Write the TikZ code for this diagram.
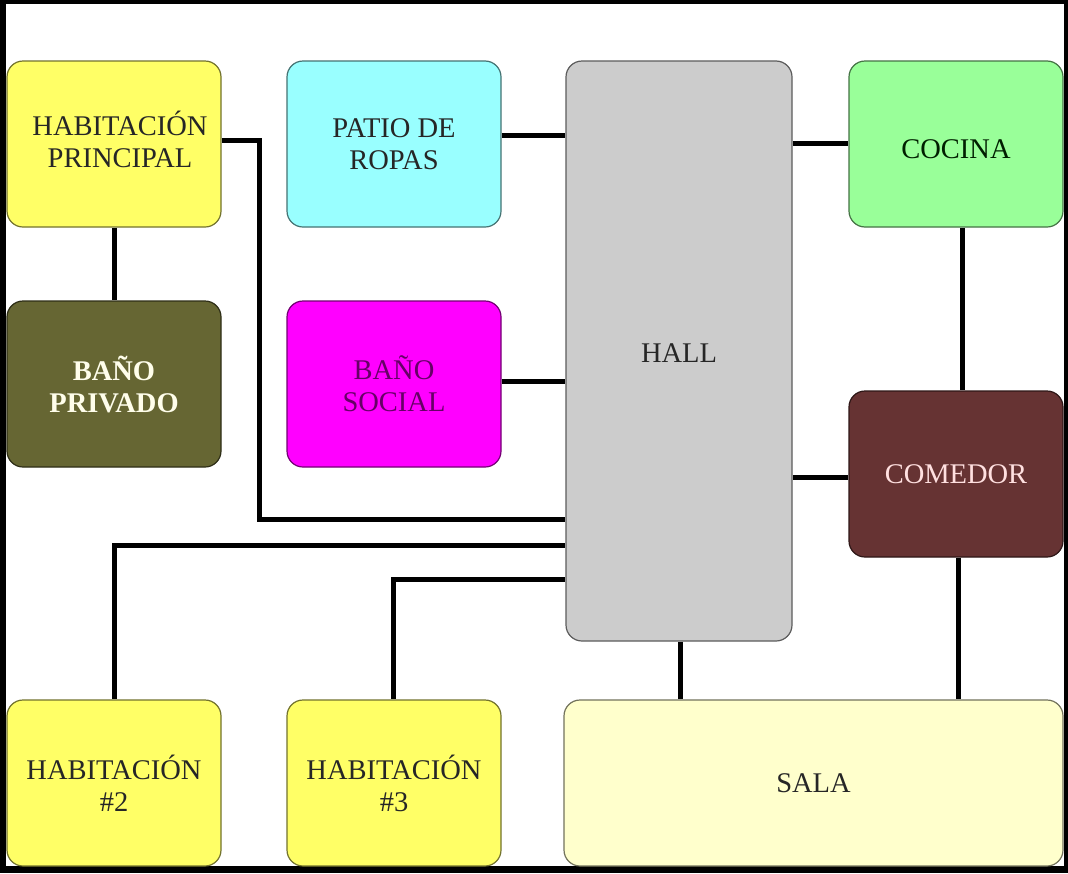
\documentclass[tikz,border=0pt]{standalone}
\usepackage{fontspec}
\setmainfont{Liberation Serif}
\usetikzlibrary{backgrounds}
\definecolor{habyellow}{HTML}{FFFF66}
\definecolor{patiocyan}{HTML}{99FFFF}
\definecolor{cocinagreen}{HTML}{99FF99}
\definecolor{hallgray}{HTML}{CCCCCC}
\definecolor{banoolive}{HTML}{666633}
\definecolor{banomagenta}{HTML}{FF00FF}
\definecolor{comedorbrown}{HTML}{663333}
\definecolor{salacream}{HTML}{FFFFCC}
\tikzset{
  roomfont/.style={font=\fontsize{28.5}{32}\selectfont},
  room/.style={rectangle, rounded corners=16, fill=#1, draw=#1!45!black,
    line width=1.2, inner sep=0pt, align=center, roomfont, text=black!85},
  roomsize/.style={minimum width=214, minimum height=166},
  roomtext/.style={inner sep=0pt, align=center, roomfont, text=black!85},
  link/.style={line width=5, draw=black},
}
\begin{document}
\begin{tikzpicture}[x=1pt, y=-1pt]
\useasboundingbox (0,0) rectangle (1068,873);
% outer frame
\begin{scope}[on background layer]
  \fill[black] (0,0) rectangle (1068,873);
  \fill[white] (6,4) rectangle (1064,866);
\end{scope}

% rooms
\node[room=habyellow, roomsize] (hp) at (114,144) {};
\node[roomtext] (hptext) at (120,139) {HABITACIÓN\\PRINCIPAL};
\node[room=patiocyan, roomsize] (patio) at (394,144) {PATIO DE\\ROPAS};
\node[room=cocinagreen, roomsize] (cocina) at (956,144) {};
\node[roomtext, text={black!70!green!40!black}] (cocinatext) at (956,149) {COCINA};
\node[room=hallgray, minimum width=226, minimum height=580] (hall) at (679,351) {};
\node[roomtext] (halltext) at (679,353) {HALL};
\node[room=banoolive, roomsize, text={white!92!yellow}, font=\fontsize{28.5}{32}\selectfont\bfseries] (bp) at (114,384) {BAÑO\\PRIVADO};
\node[room=banomagenta, roomsize, text={black!60!banomagenta}] (bs) at (394,384) {BAÑO\\SOCIAL};
\node[room=comedorbrown, roomsize, text={white!88!red}] (comedor) at (956,474) {COMEDOR};
\node[room=habyellow, roomsize] (h2) at (114,783) {HABITACIÓN\\\#2};
\node[room=habyellow, roomsize] (h3) at (394,783) {HABITACIÓN\\\#3};
\node[room=salacream, minimum width=499, minimum height=166] (sala) at (813.5,783) {SALA};

% connections between rooms
\begin{scope}[on background layer]
  \draw[link] (hp.east |- 0,140) -- (259,140) -- (259,519) -- (hall.west |- 0,519);
  \draw[link] (patio.east |- 0,135) -- (hall.west |- 0,135);
  \draw[link] (hall.east |- 0,143) -- (cocina.west |- 0,143);
  \draw[link] (cocina.south -| 962,0) -- (comedor.north -| 962,0);
  \draw[link] (bs.east |- 0,381) -- (hall.west |- 0,381);
  \draw[link] (hall.east |- 0,477) -- (comedor.west |- 0,477);
  \draw[link] (hp.south -| 114,0) -- (bp.north -| 114,0);
  \draw[link] (h2.north -| 114,0) |- (hall.west |- 0,545);
  \draw[link] (h3.north -| 393,0) |- (hall.west |- 0,579);
  \draw[link] (hall.south -| 680,0) -- (sala.north -| 680,0);
  \draw[link] (comedor.south -| 958,0) -- (sala.north -| 958,0);
\end{scope}
\end{tikzpicture}
\end{document}
